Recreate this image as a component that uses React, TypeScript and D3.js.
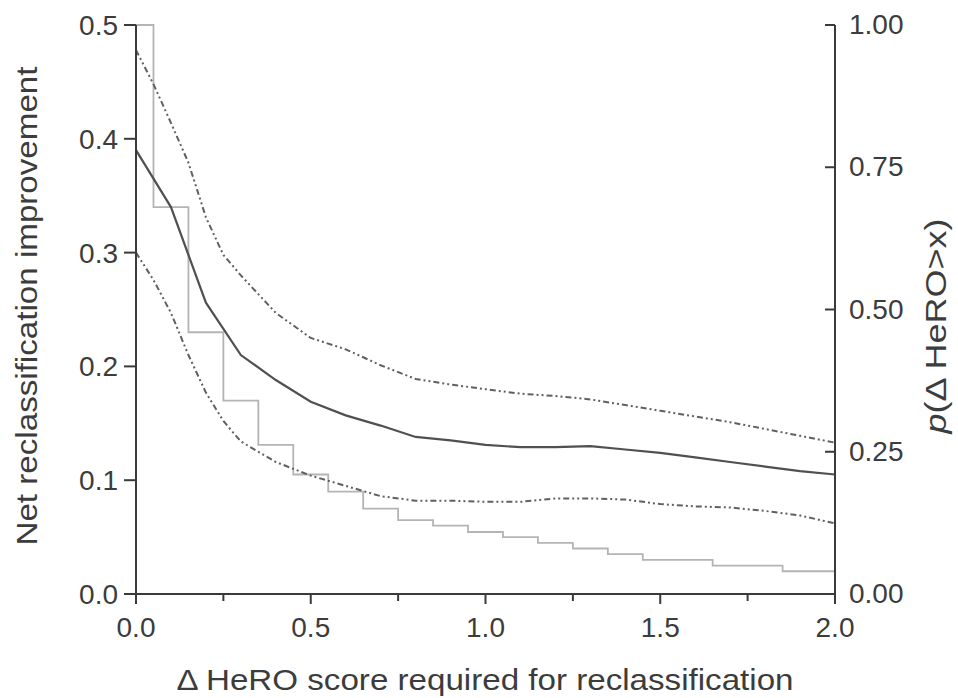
import React from "react";
import * as d3 from "d3";

// NRI curve (left axis) sampled every 0.1 of delta HeRO
const gridX = [0, 0.1, 0.2, 0.3, 0.4, 0.5, 0.6, 0.7, 0.8, 0.9, 1.0, 1.1, 1.2, 1.3, 1.4, 1.5, 1.6, 1.7, 1.8, 1.9, 2.0];
const nri = [0.39, 0.34, 0.256, 0.21, 0.188, 0.169, 0.157, 0.148, 0.138, 0.135, 0.131, 0.129, 0.129, 0.13, 0.127, 0.124, 0.12, 0.116, 0.112, 0.108, 0.105];

const ciX = [0, 0.05, 0.1, 0.15, 0.2, 0.25, 0.3, 0.4, 0.5, 0.6, 0.7, 0.8, 0.9, 1.0, 1.1, 1.2, 1.3, 1.4, 1.5, 1.6, 1.7, 1.8, 1.9, 2.0];
const nriUpper = [0.478, 0.448, 0.414, 0.379, 0.331, 0.298, 0.28, 0.247, 0.225, 0.215, 0.201, 0.189, 0.184, 0.18, 0.176, 0.174, 0.171, 0.166, 0.161, 0.156, 0.151, 0.145, 0.139, 0.133];
const nriLower = [0.3, 0.276, 0.247, 0.21, 0.177, 0.152, 0.134, 0.116, 0.104, 0.095, 0.086, 0.082, 0.082, 0.081, 0.081, 0.084, 0.084, 0.083, 0.079, 0.077, 0.076, 0.073, 0.069, 0.062];

// p(delta HeRO > x), step function on right axis
const stepX = [0, 0.05, 0.15, 0.25, 0.35, 0.45, 0.55, 0.65, 0.75, 0.85, 0.95, 1.05, 1.15, 1.25, 1.35, 1.45, 1.65, 1.85, 2.0];
const stepP = [1.0, 0.68, 0.46, 0.34, 0.262, 0.21, 0.18, 0.15, 0.13, 0.12, 0.109, 0.1, 0.09, 0.08, 0.07, 0.06, 0.05, 0.04, 0.04];

const xTicks = [0, 0.5, 1.0, 1.5, 2.0];
const xMinor = [0.25, 0.75, 1.25, 1.75];
const leftTicks = [0, 0.1, 0.2, 0.3, 0.4, 0.5];
const rightTicks = [0, 0.25, 0.5, 0.75, 1.0];

const W = 958;
const H = 698;
const left = 136;
const right = 835;
const top = 25;
const bottom = 594;

const axisColor = "#3a3a3a";
const textColor = "#3c3c3c";
const font = "Liberation Sans, Arial, sans-serif";

export default function App() {
  const x = d3.scaleLinear().domain([0, 2]).range([left, right]);
  const yL = d3.scaleLinear().domain([0, 0.5]).range([bottom, top]);
  const yR = d3.scaleLinear().domain([0, 1]).range([bottom, top]);

  const line = d3
    .line<[number, number]>()
    .x((d) => x(d[0]))
    .y((d) => yL(d[1]));
  const step = d3
    .line<[number, number]>()
    .x((d) => x(d[0]))
    .y((d) => yR(d[1]))
    .curve(d3.curveStepAfter);

  const zip = (xs: number[], ys: number[]) => xs.map((v, i) => [v, ys[i]] as [number, number]);

  return (
    <div style={{ position: "fixed", left: 0, top: 0 }}>
      <svg width={W} height={H} style={{ display: "block", background: "#fff" }}>
        {/* step curve */}
        <path d={step(zip(stepX, stepP)) || ""} fill="none" stroke="#b4b4b4" strokeWidth={1.8} />
        {/* CI bands */}
        <path
          d={line(zip(ciX, nriUpper)) || ""}
          fill="none"
          stroke="#606060"
          strokeWidth={2}
          strokeDasharray="6,3,2,3,2,3"
        />
        <path
          d={line(zip(ciX, nriLower)) || ""}
          fill="none"
          stroke="#606060"
          strokeWidth={2}
          strokeDasharray="6,3,2,3,2,3"
        />
        {/* NRI */}
        <path d={line(zip(gridX, nri)) || ""} fill="none" stroke="#505050" strokeWidth={2.2} />

        {/* axes */}
        <line x1={left} x2={left} y1={top} y2={bottom} stroke={axisColor} strokeWidth={2} />
        <line x1={right} x2={right} y1={top} y2={bottom} stroke={axisColor} strokeWidth={2} />
        <line x1={left - 12} x2={right} y1={bottom} y2={bottom} stroke={axisColor} strokeWidth={2} />

        {leftTicks.map((t) => (
          <g key={"l" + t}>
            <line x1={left - 12} x2={left} y1={yL(t)} y2={yL(t)} stroke={axisColor} strokeWidth={2} />
            <text
              x={left - 18}
              y={yL(t)}
              dy="0.36em"
              textAnchor="end"
              fontFamily={font}
              fontSize={28}
              fill={textColor}
            >
              {t.toFixed(1)}
            </text>
          </g>
        ))}

        {rightTicks.map((t) => (
          <g key={"r" + t}>
            <line x1={right - 10} x2={right} y1={yR(t)} y2={yR(t)} stroke={axisColor} strokeWidth={2} />
            <text
              x={right + 14}
              y={yR(t)}
              dy="0.33em"
              textAnchor="start"
              fontFamily={font}
              fontSize={28}
              fill={textColor}
            >
              {t.toFixed(2)}
            </text>
          </g>
        ))}

        {xTicks.map((t) => (
          <g key={"x" + t}>
            <line x1={x(t)} x2={x(t)} y1={bottom} y2={bottom + 10} stroke={axisColor} strokeWidth={2} />
            <text x={x(t)} y={637} textAnchor="middle" fontFamily={font} fontSize={28} fill={textColor}>
              {t.toFixed(1)}
            </text>
          </g>
        ))}
        {xMinor.map((t) => (
          <line key={"m" + t} x1={x(t)} x2={x(t)} y1={bottom} y2={bottom + 7} stroke={axisColor} strokeWidth={2} />
        ))}

        {/* titles */}
        <text
          x={485}
          y={690}
          textAnchor="middle"
          fontFamily={font}
          fontSize={30}
          fill={textColor}
          textLength={617}
          lengthAdjust="spacingAndGlyphs"
        >
          Δ HeRO score required for reclassification
        </text>
        <text
          transform="translate(37,306) rotate(-90)"
          textAnchor="middle"
          fontFamily={font}
          fontSize={30}
          fill={textColor}
          textLength={479}
          lengthAdjust="spacingAndGlyphs"
        >
          Net reclassification improvement
        </text>
        <text
          transform="translate(946,326) rotate(-90)"
          textAnchor="middle"
          fontFamily={font}
          fontSize={30}
          fill={textColor}
          textLength={215}
          lengthAdjust="spacingAndGlyphs"
        >
          <tspan fontStyle="italic">p</tspan>(Δ HeRO&gt;x)
        </text>
      </svg>
    </div>
  );
}
